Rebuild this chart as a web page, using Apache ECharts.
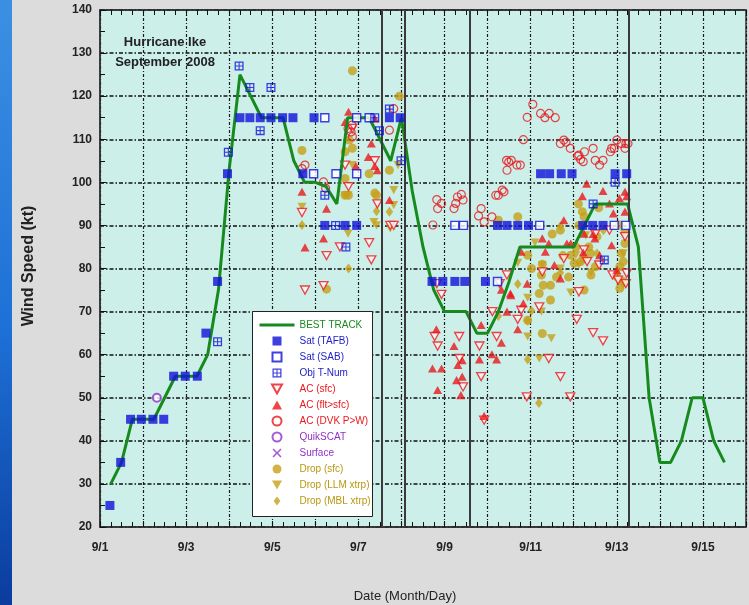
<!DOCTYPE html>
<html>
<head>
<meta charset="utf-8">
<script src="https://cdn.jsdelivr.net/npm/echarts@6/dist/echarts.min.js"></script>
<style>
  html, body { margin: 0; padding: 0; background: #dcdcdc; }
  #stripe { position: absolute; left: 0; top: 0; width: 12px; height: 605px;
            background: linear-gradient(#3c90e2, #1d70d6 55%, #0b3c9e); }
  #c { position: absolute; left: 0; top: 0; width: 749px; height: 605px; }
</style>
</head>
<body>
<div id="stripe"></div>
<div id="c"></div>
<script>
// Time axis: days since 00 UTC 1 September 2008
const dateLabels = ['9/1','9/2','9/3','9/4','9/5','9/6','9/7','9/8','9/9','9/10','9/11','9/12','9/13','9/14','9/15','9/16'];

// Best track intensity, 6-hourly
const bestTrackDays = [0.25,0.5,0.75,1,1.25,1.5,1.75,2,2.25,2.5,2.75,3,3.25,3.5,3.75,4,4.25,4.5,4.75,5,5.25,5.5,5.75,6,6.25,6.5,6.75,7,7.25,7.5,7.75,8,8.25,8.5,8.75,9,9.25,9.5,9.75,10,10.25,10.5,10.75,11,11.25,11.5,11.75,12,12.25,12.5,12.75,13,13.25,13.5,13.75,14,14.25,14.5];
const bestTrackKt = [30,35,45,45,45,50,55,55,55,60,75,103,125,120,115,115,115,105,100,100,99,95,115,115,115,110,105,115,98,85,75,70,70,70,65,65,70,77,85,85,85,85,85,85,90,95,95,95,95,85,50,35,35,40,50,50,40,35];

// Landfall times
const landfallDays = [6.54, 7.08, 8.58, 12.28];

// Satellite estimates [day, kt]
const satTafb = [[0.23,25],[0.48,35],[0.71,45],[0.96,45],[1.23,45],[1.48,45],[1.71,55],[1.98,55],[2.26,55],[2.46,65],[2.73,77],[2.96,102],
  [3.25,115],[3.48,115],[3.72,115],[3.97,115],[4.24,115],[4.48,115],[4.97,115],[6.72,115],[6.97,115],
  [4.71,102],[5.22,90],[5.69,90],[5.96,90],
  [7.71,77],[7.96,77],[8.24,77],[8.47,77],[8.95,77],
  [9.23,90],[9.45,90],[9.70,90],[9.95,90],[11.21,90],[11.44,90],[11.68,90],
  [10.23,102],[10.44,102],[10.71,102],[10.96,102],[11.96,102],[12.23,102]];
const satSab = [[5.22,115],[4.96,102],[5.48,102],[5.96,102],[5.96,115],[6.25,115],[9.23,77],[8.24,90],[8.44,90],[10.21,90],[11.94,90],[12.21,90]];
const objTnum = [[2.73,63],[2.98,107],[3.23,127],[3.48,122],[3.97,122],[3.72,112],[5.22,97],[5.47,90],[5.71,85],[6.49,112],[6.38,115],[6.72,117],[6.99,105],[11.96,100],[11.45,95],[11.71,82]];

// Aircraft observations [day, kt]
const acSfc = [[4.69,93],[5.26,83],[4.76,75],[5.19,76],[5.77,99],[5.57,85],[5.69,104],[5.86,112.5],[6.25,86],[6.30,82],[6.44,95],[6.38,105],[6.74,90],[6.82,90],
  [7.82,76.5],[7.93,74],[7.77,64.2],[7.84,62],[8.34,64.2],[8.35,59.1],[8.43,52.5],[8.81,62],[8.85,54.9],[8.92,44.8],
  [9.11,70],[9.21,64.2],[9.28,76.5],[9.45,78.5],[9.70,68.2],[9.78,70.3],[9.91,50.2],[10.20,71.1],[10.27,79.2],[10.42,59.1],[10.69,54.9],[10.77,82.3],[10.92,50.2],
  [11.07,68.2],[11.12,74.6],[11.24,84.3],[11.31,81.6],[11.45,65.1],[11.59,80.8],[11.68,63.2],[11.83,88.9],[11.90,78.5],[12.03,77.3],[12.19,87.4],[12.23,78.9],[12.21,76.5],[11.50,88]];
const acFlt = [[4.69,97.8],[5.26,93.9],[5.19,87],[4.76,84.9],[5.77,116.4],[5.69,114],[5.94,103.8],[6.30,109],[6.23,105.9],[6.38,103.8],[6.44,102.8],[6.72,95.9],[6.38,114.8],
  [7.81,65.9],[8.22,62],[7.72,56.8],[7.93,56.8],[7.84,51.8],[8.31,57.6],[8.41,58.7],[8.28,54.1],[8.41,54.9],[8.38,50.6],[8.85,66.9],[8.81,58.9],[9.10,60.1],[9.21,58.9],[9.32,62.8],[8.92,45.8],[9.45,70],[9.54,73.8],[9.70,65.9],[9.83,71.9],[9.92,76.5],[9.53,74.2],[9.32,75.1],
  [9.78,83.9],[10.27,87],[10.42,85.8],[10.34,83.9],[10.55,80.8],[10.69,77.7],[10.84,85.8],[10.93,85.8],[10.77,91.2],[11.24,88.1],[11.30,99.7],[11.20,96.8],[11.68,98],[11.83,95.1],[12.06,96.3],[12.19,97.8],[12.23,96.8],[11.92,92.8],[12.19,93.2],[11.45,88],[11.49,87],[11.88,85.4],[12.00,79.6],[11.22,83.7],[11.60,83.1]];
const acDvk = [[4.69,103.2],[4.76,104],[5.19,100.1],[5.24,98.6],[5.76,112.5],[5.85,113.3],[5.83,111.7],[5.86,110.6],[6.82,117.1],[6.72,112.1],
  [7.82,96],[7.93,95.1],[7.84,93.9],[7.73,90.1],
  [8.26,95.1],[8.22,93.9],[8.30,96.6],[8.39,97.2],[8.43,95.9],[8.79,92.2],[8.85,93.9],[8.92,90.8],[9.10,92],
  [9.19,97],[9.25,97],[9.34,98.2],[9.38,97.8],[9.44,105.1],[9.49,104.7],[9.55,105.1],[9.45,102.8],[9.68,104],[9.76,104],[9.83,109.9],[9.92,115.1],
  [10.05,118.1],[10.23,116],[10.33,115],[10.43,116],[10.57,115],[10.69,109],[10.77,109.8],[10.82,109.3],[10.92,107.9],[11.09,106.1],[11.12,106.3],[11.16,105.3],[11.22,104.8],[11.25,107.1],[11.45,107.9],[11.50,105.1],[11.60,104],[11.68,105.1],[11.85,107.1],[11.88,107.9],[11.94,107.9],[12.00,109.8],[12.11,109],[12.21,109],[12.26,109],[12.19,107.9]];

// Scatterometer and surface [day, kt]
const quikscat = [[1.32,50]];
const surface = [];

// Dropsondes [day, kt]
const dropSfc = [[4.69,107.4],[5.26,75.2],[5.86,125.9],[6.95,120],[5.69,107.1],[5.86,107.9],[5.79,109.8],[5.69,100.9],[5.69,97],[5.77,97],[6.25,102],[6.42,97],[6.38,97.5],[6.72,102.8],
  [9.25,91.2],[9.70,92],[9.93,83.1],[9.93,68],[10.02,80],[10.20,74.2],[10.25,78.5],[10.27,81],[10.27,64.9],[10.29,76.1],[10.46,76.1],[10.46,72.7],[10.5,88],[10.60,78],[10.69,88.9],[10.75,83],[10.88,78],[10.93,83.1],[11.01,81.2],[11.05,85],[11.11,95],[11.12,90],[11.16,81.6],[11.20,93.2],[11.24,92],[11.24,82.3],[11.24,75],[11.35,85],[11.39,83.5],[11.40,78.5],[11.50,80.4],[11.54,87.4],[11.58,94.1],[12.00,78.1],[12.07,90.1],[12.07,80.4],[12.07,75.4],[12.11,83.5],[12.15,81.6],[12.15,77],[12.19,85.8]];
const dropLlm = [[4.69,94.3],[5.68,97],[5.76,97],[5.76,88.1],[5.86,104],[6.36,90.8],[6.42,90],[6.74,89.3],[6.82,98.2],[6.82,94.7],[6.92,104],
  [9.70,81.3],[9.93,73.2],[9.93,64.2],[10.1,86],[10.20,59.1],[10.25,70],[10.27,80.8],[10.48,63.8],[10.69,80],[10.93,74.4],[11.05,83.1],[11.12,80.8],[11.28,87.7],[11.4,79],[12.15,83.5],[12.15,76.1],[12.18,88]];
const dropMbl = [[4.69,90.1],[5.77,80],[6.72,93.2],[6.42,93.3],
  [9.25,69],[9.70,76.4],[9.93,67.9],[9.93,58.9],[10.02,70.2],[10.19,48.8],[10.69,89.8],[10.69,79],[11.54,83.5],[11.69,88.9]];

const BLUE = '#1010d8', RED = '#e8181c', GOLD = '#c6a018', PURPLE = '#9030c8', GREEN = '#178a1e';
const FONT = "'Liberation Sans', Arial, sans-serif";

// Marker shapes as paths so they keep their proportions in the legend too
const squareSymbol = 'path://M0,0H10V10H0Z';
const gridSymbol = 'path://M0,0H10V10H0Z M1.4,1.4V4.4H4.4V1.4Z M5.6,1.4V4.4H8.6V1.4Z M1.4,5.6V8.6H4.4V5.6Z M5.6,5.6V8.6H8.6V5.6Z';
const triUpSymbol = 'path://M5,0L10,9L0,9Z';
const triDownSymbol = 'path://M0,0L10,0L5,9Z';
const diamondSymbol = 'path://M5,0L9.5,6L5,12L0.5,6Z';
const crossSymbol = 'path://M0,1.2L1.2,0L5,3.8L8.8,0L10,1.2L6.2,5L10,8.8L8.8,10L5,6.2L1.2,10L0,8.8L3.8,5Z';

function scatter(name, data, symbol, size, style, extra) {
  return Object.assign({
    name, type: 'scatter', data, symbol, symbolSize: size, symbolKeepAspect: true,
    itemStyle: style, emphasis: { disabled: true }, z: 3
  }, extra || {});
}

const chart = echarts.init(document.getElementById('c'), null, { renderer: 'canvas' });

const tickLine = { color: '#111', width: 1 };

chart.setOption({
  animation: false,
  grid: { left: 100, top: 10, width: 658, height: 517, show: true,
          backgroundColor: '#ccefea', borderColor: '#333', borderWidth: 1.5 },
  xAxis: [{
    type: 'value', min: 0, max: 15, interval: 1,
    axisLine: { show: true, lineStyle: { color: '#333', width: 1.5 } },
    axisTick: { show: true, inside: true, length: 6, lineStyle: tickLine },
    minorTick: { show: true, splitNumber: 4, length: 5, lineStyle: tickLine },
    splitLine: { show: true, lineStyle: { color: '#1a1a1a', width: 1.2, type: [3, 2, 1, 2] } },
    axisLabel: { margin: 15, color: '#222', fontFamily: FONT, fontWeight: 'bold', fontSize: 12,
                 formatter: v => (v % 2 === 0 ? dateLabels[v] : '') }
  }, {
    type: 'value', min: 0, max: 15, interval: 1, position: 'top',
    axisLine: { show: true, lineStyle: { color: '#333', width: 1.5 } },
    axisTick: { show: true, inside: true, length: 6, lineStyle: tickLine },
    minorTick: { show: true, splitNumber: 4, length: 5, lineStyle: tickLine },
    splitLine: { show: false }, axisLabel: { show: false }
  }],
  yAxis: {
    type: 'value', min: 20, max: 140, interval: 10,
    axisLine: { show: true, lineStyle: { color: '#333', width: 1.5 } },
    axisTick: { show: true, inside: true, length: 6, lineStyle: tickLine },
    minorTick: { show: true, splitNumber: 2, length: 5, lineStyle: tickLine },
    splitLine: { show: true, lineStyle: { color: '#111', width: 1.5, type: [4, 2, 1.5, 2] } },
    axisLabel: { margin: 8, color: '#222', fontFamily: FONT, fontWeight: 'bold', fontSize: 12 }
  },
  legend: {
    left: 258, top: 319, orient: 'vertical', padding: 0,
    itemWidth: 35, itemHeight: 9, itemGap: 4, selectedMode: false, symbolKeepAspect: true,
    textStyle: { fontFamily: FONT, fontSize: 10, lineHeight: 12 },
    data: [
      { name: 'BEST TRACK', textStyle: { color: GREEN },
        itemStyle: { color: 'rgba(0,0,0,0)', borderWidth: 0 }, lineStyle: { width: 3 } },
      { name: 'Sat (TAFB)', textStyle: { color: '#2222c8' } },
      { name: 'Sat (SAB)', textStyle: { color: '#2222c8' } },
      { name: 'Obj T-Num', textStyle: { color: '#2222c8' } },
      { name: 'AC (sfc)', textStyle: { color: RED } },
      { name: 'AC (flt>sfc)', textStyle: { color: RED } },
      { name: 'AC (DVK P>W)', textStyle: { color: RED } },
      { name: 'QuikSCAT', textStyle: { color: PURPLE } },
      { name: 'Surface', textStyle: { color: PURPLE } },
      { name: 'Drop (sfc)', textStyle: { color: '#b89810' } },
      { name: 'Drop (LLM xtrp)', textStyle: { color: '#b89810' } },
      { name: 'Drop (MBL xtrp)', textStyle: { color: '#b89810' } }
    ]
  },
  graphic: [
    { type: 'rect', left: 252, top: 311, z: 3,
      shape: { width: 120, height: 205 },
      style: { fill: '#ffffff', stroke: '#222', lineWidth: 1 } },
    { type: 'text', x: 165, y: 42, z: 5,
      style: { text: 'Hurricane Ike', fill: '#222', font: "bold 13px 'Liberation Sans', Arial, sans-serif",
               align: 'center', verticalAlign: 'middle' } },
    { type: 'text', x: 165, y: 62, z: 5,
      style: { text: 'September 2008', fill: '#222', font: "bold 13px 'Liberation Sans', Arial, sans-serif",
               align: 'center', verticalAlign: 'middle' } },
    { type: 'text', x: 29, y: 266, rotation: Math.PI / 2, z: 5,
      style: { text: 'Wind Speed (kt)', fill: '#222', font: "bold 16px 'Liberation Sans', Arial, sans-serif",
               align: 'center', verticalAlign: 'middle' } },
    { type: 'text', x: 405, y: 596, z: 5,
      style: { text: 'Date (Month/Day)', fill: '#222', font: "13px 'Liberation Sans', Arial, sans-serif",
               align: 'center', verticalAlign: 'middle' } }
  ],
  series: [
    { name: 'landfall', type: 'line', data: [], silent: true, z: 2,
      markLine: { silent: true, symbol: ['none', 'none'], label: { show: false },
                  lineStyle: { color: '#3a3a3a', type: 'solid', width: 2 },
                  data: landfallDays.map(d => ({ xAxis: d })) } },
    scatter('Drop (sfc)', dropSfc, 'circle', 9, { color: GOLD }),
    scatter('Drop (LLM xtrp)', dropLlm, triDownSymbol, 9, { color: GOLD }),
    scatter('Drop (MBL xtrp)', dropMbl, diamondSymbol, 10, { color: GOLD }),
    scatter('AC (sfc)', acSfc, triDownSymbol, 9, { color: '#fff4f4', borderColor: RED, borderWidth: 1.3 }),
    scatter('AC (flt>sfc)', acFlt, triUpSymbol, 9, { color: RED }),
    scatter('AC (DVK P>W)', acDvk, 'circle', 8, { color: 'rgba(255,255,255,0)', borderColor: RED, borderWidth: 1.2 }),
    scatter('QuikSCAT', quikscat, 'circle', 8, { color: '#ffffff', borderColor: PURPLE, borderWidth: 2 }),
    scatter('Surface', surface, crossSymbol, 8, { color: PURPLE }),
    {
      name: 'BEST TRACK', type: 'line', data: bestTrackDays.map((d, i) => [d, bestTrackKt[i]]),
      symbol: 'none', lineStyle: { color: GREEN, width: 3 }, itemStyle: { color: GREEN },
      emphasis: { disabled: true }, z: 4
    },
    scatter('Sat (TAFB)', satTafb, squareSymbol, 9, { color: BLUE }, { z: 5 }),
    scatter('Sat (SAB)', satSab, squareSymbol, 8, { color: '#ffffff', borderColor: BLUE, borderWidth: 1.4 }, { z: 5 }),
    scatter('Obj T-Num', objTnum, gridSymbol, 9, { color: BLUE }, { z: 5 })
  ]
});
</script>
</body>
</html>
